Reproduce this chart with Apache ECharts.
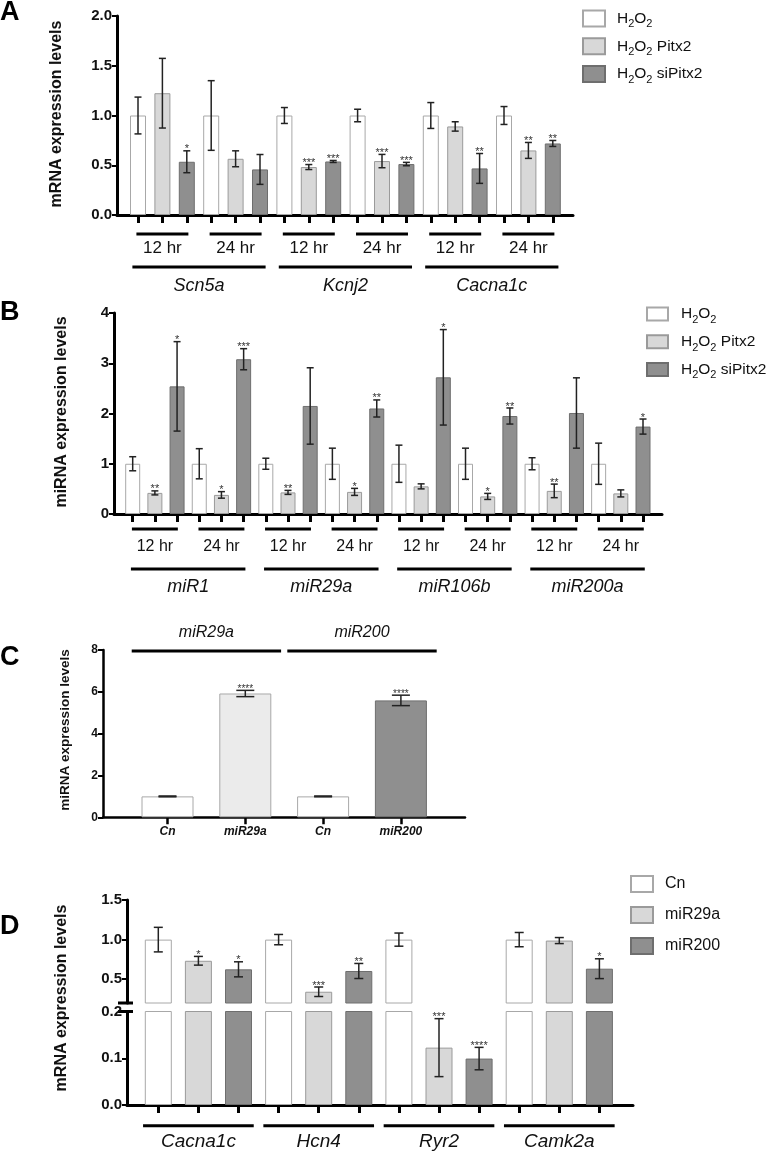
<!DOCTYPE html>
<html><head><meta charset="utf-8">
<script src="https://cdn.jsdelivr.net/npm/echarts@6/dist/echarts.min.js"></script>
<style>html,body{margin:0;padding:0;background:#fff}#c{width:767px;height:1153px}</style>
</head><body><div id="c"></div>
<script>
// ---------------- DATA ----------------
// Panel A (mRNA, 3 conditions per gene/time group)
const A_genes = ['Scn5a', 'Kcnj2', 'Cacna1c'];
const A_times = ['12 hr', '24 hr', '12 hr', '24 hr', '12 hr', '24 hr'];
const A_H2O2 = [1, 1, 1, 1, 1, 1];
const A_H2O2_err = [0.185, 0.35, 0.08, 0.063, 0.13, 0.09];
const A_Pitx2 = [1.224, 0.565, 0.482, 0.542, 0.89, 0.649];
const A_Pitx2_err = [0.35, 0.08, 0.025, 0.067, 0.047, 0.08];
const A_siPitx2 = [0.535, 0.458, 0.538, 0.512, 0.468, 0.719];
const A_siPitx2_err = [0.11, 0.15, 0.01, 0.017, 0.15, 0.03];
const A_H2O2_sig = ['', '', '', '', '', ''];
const A_Pitx2_sig = ['', '', '***', '***', '', '**'];
const A_siPitx2_sig = ['*', '', '***', '***', '**', '**'];

// Panel B (miRNA)
const B_genes = ['miR1', 'miR29a', 'miR106b', 'miR200a'];
const B_times = ['12 hr', '24 hr', '12 hr', '24 hr', '12 hr', '24 hr', '12 hr', '24 hr'];
const B_H2O2 = [1, 1, 1, 1, 1, 1, 1, 1];
const B_H2O2_err = [0.14, 0.3, 0.11, 0.31, 0.37, 0.31, 0.12, 0.41];
const B_Pitx2 = [0.42, 0.38, 0.43, 0.44, 0.55, 0.35, 0.46, 0.41];
const B_Pitx2_err = [0.04, 0.065, 0.04, 0.07, 0.05, 0.06, 0.135, 0.07];
const B_siPitx2 = [2.54, 3.08, 2.15, 2.10, 2.72, 1.95, 2.01, 1.74];
const B_siPitx2_err = [0.89, 0.21, 0.76, 0.17, 0.95, 0.16, 0.7, 0.15];
const B_H2O2_sig = ['', '', '', '', '', '', '', ''];
const B_Pitx2_sig = ['**', '*', '**', '*', '', '*', '**', ''];
const B_siPitx2_sig = ['*', '***', '', '**', '*', '**', '', '*'];

// Panel C
const C_groups = ['miR29a', 'miR200'];
const C_cats = ['Cn', 'miR29a', 'Cn', 'miR200'];
const C_vals = [1, 5.92, 1, 5.59];
const C_err = [0.02, 0.15, 0.02, 0.25];
const C_sig = ['', '****', '', '****'];

// Panel D (broken axis)
const D_genes = ['Cacna1c', 'Hcn4', 'Ryr2', 'Camk2a'];
const D_Cn = [1, 1, 1, 1];
const D_Cn_err = [0.155, 0.065, 0.083, 0.09];
const D_miR29a = [0.733, 0.342, 0.1227, 0.988];
const D_miR29a_err = [0.055, 0.06, 0.062, 0.038];
const D_miR200 = [0.625, 0.604, 0.0993, 0.633];
const D_miR200_err = [0.095, 0.095, 0.024, 0.125];
const D_Cn_sig = ['', '', '', ''];
const D_miR29a_sig = ['*', '***', '***', ''];
const D_miR200_sig = ['*', '**', '****', '*'];
const D_upperTicks = [0.5, 1.0, 1.5];

// ---------------- STYLE ----------------
const FONT = '"Liberation Sans", Arial, Helvetica, sans-serif';
const S_WHITE = {color: '#ffffff', borderColor: '#a8a8a8', borderWidth: 1};
const S_LIGHT = {color: '#d8d8d8', borderColor: '#9a9a9a', borderWidth: 1};
const S_LIGHTER = {color: '#ebebeb', borderColor: '#a8a8a8', borderWidth: 1};
const S_DARK = {color: '#8f8f8f', borderColor: '#6e6e6e', borderWidth: 1};

const grids = [], xAxis = [], yAxis = [], series = [], legend = [], graphic = [];

function frame(rect, y, o) {
  const gi = grids.length;
  grids.push(Object.assign({containLabel: false, outerBoundsMode: 'none'}, rect));
  xAxis.push({type: 'value', gridIndex: gi, min: 0, max: 1, show: o.xLine !== false,
    axisLine: {show: o.xLine !== false, lineStyle: {color: '#000', width: o.lw}},
    axisTick: {show: false}, axisLabel: {show: false}, splitLine: {show: false}});
  const ya = {type: 'value', gridIndex: gi, min: y.min, max: y.max,
    axisLine: {show: true, lineStyle: {color: '#000', width: o.lw}},
    axisTick: {show: true, length: 5, lineStyle: {color: '#000', width: 2}},
    axisLabel: {show: true, margin: 5, color: '#111', fontWeight: 'bold', fontSize: o.fs, fontFamily: FONT, formatter: y.fmt},
    splitLine: {show: false}};
  if (y.interval != null) ya.interval = y.interval;
  if (y.custom) { ya.axisLabel.customValues = y.custom; ya.axisTick.customValues = y.custom; }
  yAxis.push(ya);
  return gi;
}

function barGrid(rect, n, y, tick, catLabels, lab) {
  const gi = grids.length;
  grids.push(Object.assign({containLabel: false, outerBoundsMode: 'none'}, rect));
  xAxis.push({type: 'category', gridIndex: gi, data: catLabels || Array(n).fill(''), boundaryGap: true,
    axisLine: {show: false},
    axisTick: {show: tick.show, alignWithLabel: true, interval: 0, length: tick.len, lineStyle: {color: '#000', width: tick.w}},
    axisLabel: Object.assign({show: !!catLabels, interval: 0, fontFamily: FONT, color: '#111'}, lab || {}),
    splitLine: {show: false}});
  yAxis.push({type: 'value', gridIndex: gi, min: y.min, max: y.max, show: false, splitLine: {show: false}});
  return gi;
}

function addBars(gi, vals, names, styles, bw) {
  const k = vals.length, n = vals[0].length * k;
  vals.forEach((arr, s) => {
    const data = Array(n).fill('-');
    arr.forEach((v, g) => { data[g * k + s] = v; });
    series.push({type: 'bar', name: names[s], xAxisIndex: gi, yAxisIndex: gi, data, barWidth: bw,
      barGap: '-100%', clip: true, silent: true, itemStyle: styles[s]});
  });
}

function addErr(gi, vals, errs, sigs, cap, starFs, filter) {
  const k = vals.length, data = [], sigData = [];
  vals.forEach((arr, s) => arr.forEach((v, g) => {
    const lo = v - errs[s][g], hi = v + errs[s][g];
    if (filter && !filter(lo, hi)) return;
    data.push([g * k + s, lo, hi]); sigData.push(sigs[s][g]);
  }));
  series.push({type: 'custom', xAxisIndex: gi, yAxisIndex: gi, clip: false, silent: true, z: 5, data,
    encode: {x: 0, y: [1, 2]},
    renderItem(params, api) {
      const i = api.value(0), a = api.coord([i, api.value(1)]), b = api.coord([i, api.value(2)]);
      const st = {stroke: '#222', lineWidth: 1.5};
      const ch = [
        {type: 'line', shape: {x1: a[0], y1: a[1], x2: b[0], y2: b[1]}, style: st},
        {type: 'line', shape: {x1: a[0] - cap, y1: a[1], x2: a[0] + cap, y2: a[1]}, style: st},
        {type: 'line', shape: {x1: b[0] - cap, y1: b[1], x2: b[0] + cap, y2: b[1]}, style: st}];
      const sg = sigData[params.dataIndex];
      if (sg) ch.push({type: 'text', style: {text: sg, x: b[0], y: b[1] + 4, align: 'center', verticalAlign: 'bottom',
        fontSize: starFs, fontFamily: FONT, fill: '#333'}});
      return {type: 'group', children: ch};
    }});
}

function addGroups(gi, groups, labels, c) {
  series.push({type: 'custom', xAxisIndex: gi, yAxisIndex: gi, clip: false, silent: true, z: 5,
    data: groups.map(g => [g[0], g[1]]),
    renderItem(params, api) {
      const base = c.base;
      const p0 = api.coord([api.value(0), base]), p1 = api.coord([api.value(1), base]);
      const bw = api.size([1, 0])[0];
      const x0 = p0[0] - bw / 2, x1 = p1[0] + bw / 2, cx = (x0 + x1) / 2, half = (x1 - x0) * c.frac / 2;
      const y = p0[1] + c.lineDy;
      return {type: 'group', children: [
        {type: 'line', shape: {x1: cx - half, y1: y, x2: cx + half, y2: y}, style: {stroke: '#000', lineWidth: c.lw}},
        {type: 'text', style: {text: labels[params.dataIndex], x: cx, y: p0[1] + c.textDy, align: 'center', verticalAlign: 'middle',
          fontSize: c.fs, fontStyle: c.italic ? 'italic' : 'normal', fontFamily: FONT, fill: '#111'}}]};
    }});
}

function pairs(nGroups, size) { const r = []; for (let g = 0; g < nGroups; g++) r.push([g * size, g * size + size - 1]); return r; }

function subName(n) {
  if (n.indexOf('H2O2') !== 0) return n;
  const rest = n.slice(4);
  return '{t|H}{s|2}{t|O}{s|2}' + (rest ? '{t|' + rest + '}' : '');
}
function addLegend(names, left, top, fs, gap, iw, ih, pad) {
  legend.push({data: names, left, top, orient: 'vertical', padding: 0, itemGap: gap, itemWidth: iw, itemHeight: ih,
    icon: 'rect', selectedMode: false, formatter: subName,
    textStyle: {color: '#111', fontSize: fs, fontFamily: FONT, padding: [0, 0, 0, pad],
      rich: {t: {fontSize: fs, fontFamily: FONT, color: '#111', lineHeight: fs + 7},
             s: {fontSize: Math.round(fs * 0.68), fontFamily: FONT, color: '#111', verticalAlign: 'bottom', lineHeight: 10}}}});
}

function yName(text, x, y, fs) {
  graphic.push({type: 'text', x, y, rotation: Math.PI / 2, silent: true,
    style: {text, align: 'center', verticalAlign: 'middle', fontSize: fs, fontWeight: 'bold', fontFamily: FONT, fill: '#111'}});
}
function letter(text, y) {
  graphic.push({type: 'text', x: 0, y, silent: true,
    style: {text, align: 'left', verticalAlign: 'middle', fontSize: 27, fontWeight: 'bold', fontFamily: FONT, fill: '#000'}});
}

const A_names = ['H2O2', 'H2O2 Pitx2', 'H2O2 siPitx2'];
const D_names = ['Cn', 'miR29a', 'miR200'];
const fmt1 = v => v.toFixed(1);

// ---------------- PANEL A ----------------
frame({left: 117, top: 16, width: 456, height: 199}, {min: 0, max: 2, interval: 0.5, fmt: fmt1}, {lw: 3, fs: 15});
const gA = barGrid({left: 125.8, top: 16, width: 439.2, height: 199}, 18, {min: 0, max: 2}, {show: true, len: 8, w: 3});
addBars(gA, [A_H2O2, A_Pitx2, A_siPitx2], A_names, [S_WHITE, S_LIGHT, S_DARK], 16);
addErr(gA, [A_H2O2, A_Pitx2, A_siPitx2], [A_H2O2_err, A_Pitx2_err, A_siPitx2_err], [A_H2O2_sig, A_Pitx2_sig, A_siPitx2_sig], 3.5, 11);
addGroups(gA, pairs(6, 3), A_times, {base: 0, frac: 0.71, lineDy: 19, textDy: 33, fs: 17, lw: 3});
addGroups(gA, pairs(3, 6), A_genes, {base: 0, frac: 0.91, lineDy: 52, textDy: 71, fs: 18, lw: 3, italic: true});
addLegend(A_names, 582, 9.5, 15.5, 7.5, 22, 16, 7);
yName('mRNA expression levels', 57, 114, 16);
letter('A', 13);

// ---------------- PANEL B ----------------
frame({left: 114, top: 313, width: 548, height: 201}, {min: 0, max: 4, interval: 1, fmt: v => String(v)}, {lw: 3, fs: 15});
const gB = barGrid({left: 121.6, top: 313, width: 532.5, height: 201}, 24, {min: 0, max: 4}, {show: true, len: 8, w: 3});
addBars(gB, [B_H2O2, B_Pitx2, B_siPitx2], A_names, [S_WHITE, S_LIGHT, S_DARK], 15);
addErr(gB, [B_H2O2, B_Pitx2, B_siPitx2], [B_H2O2_err, B_Pitx2_err, B_siPitx2_err], [B_H2O2_sig, B_Pitx2_sig, B_siPitx2_sig], 3.5, 11);
addGroups(gB, pairs(8, 3), B_times, {base: 0, frac: 0.69, lineDy: 15, textDy: 33, fs: 16, lw: 3});
addGroups(gB, pairs(4, 6), B_genes, {base: 0, frac: 0.86, lineDy: 55, textDy: 73, fs: 18, lw: 3, italic: true});
addLegend(A_names, 646, 306, 15.5, 8.5, 21, 13, 8);
yName('miRNA expression levels', 62, 412, 16);
letter('B', 313);

// ---------------- PANEL C ----------------
frame({left: 103, top: 650, width: 362, height: 167.3}, {min: 0, max: 8, interval: 2, fmt: v => String(v)}, {lw: 2.5, fs: 12});
const gC = barGrid({left: 128.6, top: 650, width: 311.2, height: 167.3}, 4, {min: 0, max: 8}, {show: true, len: 7, w: 2.5},
  C_cats, {fontSize: 12, fontWeight: 'bold', fontStyle: 'italic', margin: 8});
series.push({type: 'bar', name: 'C', xAxisIndex: gC, yAxisIndex: gC, barWidth: 52, silent: true,
  data: C_vals.map((v, i) => ({value: v, itemStyle: [S_WHITE, S_LIGHTER, S_WHITE, S_DARK][i]}))});
addErr(gC, [C_vals], [C_err], [C_sig], 9, 10);
addGroups(gC, [[0, 1], [2, 3]], C_groups, {base: 8, frac: 0.96, lineDy: 1, textDy: -17, fs: 16, lw: 3, italic: true});
yName('miRNA expression levels', 65, 730, 13.5);
letter('C', 658);

// ---------------- PANEL D ----------------
frame({left: 127, top: 900, width: 506, height: 103}, {min: 0.2, max: 1.5, custom: D_upperTicks, fmt: fmt1}, {lw: 3, fs: 15, xLine: false});
frame({left: 127, top: 1011.5, width: 506, height: 93.5}, {min: 0, max: 0.2, interval: 0.1, fmt: fmt1}, {lw: 3, fs: 15});
const gDu = barGrid({left: 138.25, top: 900, width: 481.2, height: 103}, 12, {min: 0.2, max: 1.5}, {show: false, len: 0, w: 0});
const gDl = barGrid({left: 138.25, top: 1011.5, width: 481.2, height: 93.5}, 12, {min: 0, max: 0.2}, {show: true, len: 8, w: 3});
const D_vals = [D_Cn, D_miR29a, D_miR200], D_errs = [D_Cn_err, D_miR29a_err, D_miR200_err], D_sigs = [D_Cn_sig, D_miR29a_sig, D_miR200_sig];
addBars(gDu, D_vals, D_names, [S_WHITE, S_LIGHT, S_DARK], 27);
addBars(gDl, D_vals, D_names, [S_WHITE, S_LIGHT, S_DARK], 27);
addErr(gDu, D_vals, D_errs, D_sigs, 4.5, 11, (lo, hi) => lo >= 0.2);
addErr(gDl, D_vals, D_errs, D_sigs, 4.5, 11, (lo, hi) => hi <= 0.2);
addGroups(gDl, pairs(4, 3), D_genes, {base: 0, frac: 0.92, lineDy: 20.7, textDy: 37, fs: 19, lw: 3, italic: true});
addLegend(D_names, 630, 875, 16, 13, 22, 16, 7);
yName('mRNA expression levels', 62, 998, 16);
letter('D', 927);
graphic.push({type: 'line', silent: true, shape: {x1: 118, y1: 1003, x2: 133, y2: 1003}, style: {stroke: '#000', lineWidth: 3}});
graphic.push({type: 'line', silent: true, shape: {x1: 118, y1: 1011.5, x2: 133, y2: 1011.5}, style: {stroke: '#000', lineWidth: 3}});

const chart = echarts.init(document.getElementById('c'));
chart.setOption({
  animation: false,
  backgroundColor: '#fff',
  textStyle: {fontFamily: FONT},
  grid: grids, xAxis, yAxis, series, legend, graphic
});
</script>
</body></html>
